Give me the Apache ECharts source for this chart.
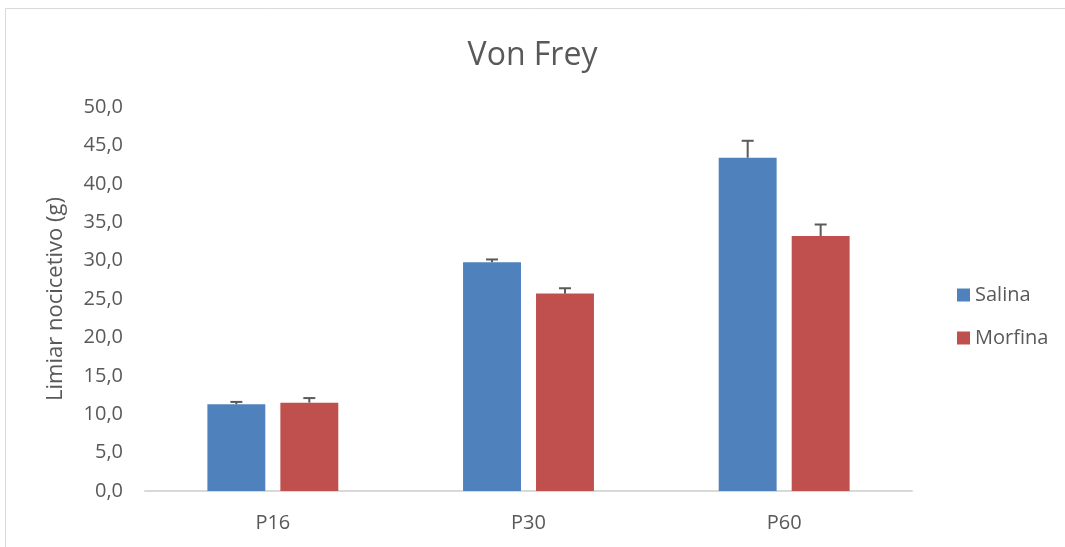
<!DOCTYPE html>
<html><head><meta charset="utf-8">
<script src="https://cdn.jsdelivr.net/npm/echarts@6/dist/echarts.min.js"></script>
<style>html,body{margin:0;padding:0;background:#fff}#c{width:1065px;height:547px}</style>
</head><body><div id="c"></div>
<script>
var categories = ['P16', 'P30', 'P60'];
var salina = [11.3, 29.8, 43.4];
var morfina = [11.5, 25.7, 33.2];
var salinaErr = [0.3, 0.35, 2.2];
var morfinaErr = [0.6, 0.7, 1.5];
var seriesNames = ['Salina', 'Morfina'];
var yTicks = { min: 0, max: 50, interval: 5 };

var FONT = '"Open Sans", "Noto Sans", sans-serif';
var TXT = '#595959';
var CAT_GAP = 0.488, BAR_GAP = 0.26;

function errSeries(vals, errs, sign) {
  return {
    type: 'custom',
    silent: true,
    z: 5,
    data: vals.map(function (v, i) { return [i, v, errs[i]]; }),
    renderItem: function (params, api) {
      var band = api.size([1, 0])[0];
      var bw = band * (1 - CAT_GAP) / (2 + BAR_GAP);
      var off = sign * bw * (1 + BAR_GAP) / 2;
      var base = api.coord([api.value(0), api.value(1)]);
      var top = api.coord([api.value(0), api.value(1) + api.value(2)]);
      var x = base[0] + off;
      var style = { stroke: '#5a5a5a', lineWidth: 2 };
      return {
        type: 'group',
        children: [
          { type: 'line', shape: { x1: x, y1: base[1], x2: x, y2: top[1] }, style: style },
          { type: 'line', shape: { x1: x - 6, y1: top[1], x2: x + 6, y2: top[1] }, style: style }
        ]
      };
    }
  };
}

var chart = echarts.init(document.getElementById('c'));
chart.setOption({
  animation: false,
  backgroundColor: '#fff',
  title: {
    text: 'Von Frey', left: 'center', top: 35,
    textStyle: { fontFamily: FONT, fontSize: 32, fontWeight: 'normal', color: TXT }
  },
  graphic: [{
    type: 'rect', silent: true, z: -1,
    shape: { x: 5.5, y: 8.5, width: 1070, height: 560 },
    style: { fill: 'none', stroke: '#d9d9d9', lineWidth: 1 }
  }],
  legend: {
    orient: 'vertical', left: 952, top: 280, itemGap: 23,
    icon: 'rect', itemWidth: 13, itemHeight: 13,
    data: seriesNames,
    textStyle: { fontFamily: FONT, fontSize: 20, color: TXT, padding: [0, 0, 0, 0] }
  },
  grid: { left: 145, right: 153, top: 107, bottom: 56, containLabel: false },
  xAxis: {
    type: 'category', data: categories,
    axisLine: { lineStyle: { color: '#d9d9d9', width: 2 } },
    axisTick: { show: false },
    axisLabel: { fontFamily: FONT, fontSize: 20, color: TXT, margin: 22 }
  },
  yAxis: {
    type: 'value', min: yTicks.min, max: yTicks.max, interval: yTicks.interval,
    name: 'Limiar nocicetivo (g)', nameLocation: 'middle', nameGap: 78, nameRotate: 90,
    nameTextStyle: { fontFamily: FONT, fontSize: 22, color: TXT },
    axisLine: { show: false }, axisTick: { show: false }, splitLine: { show: false },
    axisLabel: {
      fontFamily: FONT, fontSize: 20, color: TXT, margin: 22,
      formatter: function (v) { return v.toFixed(1).replace('.', ','); }
    }
  },
  series: [
    { name: seriesNames[0], type: 'bar', data: salina, barGap: (BAR_GAP * 100) + '%', barCategoryGap: (CAT_GAP * 100) + '%',
      itemStyle: { color: '#4f81bd' } },
    { name: seriesNames[1], type: 'bar', data: morfina, barGap: (BAR_GAP * 100) + '%', barCategoryGap: (CAT_GAP * 100) + '%',
      itemStyle: { color: '#c0504d' } },
    errSeries(salina, salinaErr, -1),
    errSeries(morfina, morfinaErr, 1)
  ]
});
</script></body></html>
